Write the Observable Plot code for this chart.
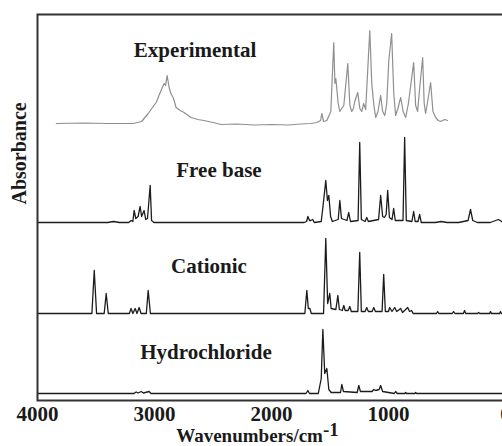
<!DOCTYPE html>
<html>
<head>
<meta charset="utf-8">
<script src="https://cdn.jsdelivr.net/npm/d3@7"></script>
<script src="https://cdn.jsdelivr.net/npm/@observablehq/plot@0.6"></script>
<style>
html, body { margin: 0; padding: 0; background: #fff; overflow: hidden; }
#chart { width: 502px; height: 446px; overflow: hidden; }
#chart svg { max-width: none !important; width: 520px; height: 446px; display: block; }
</style>
</head>
<body>
<div id="chart"></div>
<script>
// ---- data (wavenumber cm-1, absorbance relative to each trace's baseline) ----
const wavenumberTicks = [4000, 3000, 2000, 1000, 0];
const seriesNames = ["Experimental", "Free base", "Cationic", "Hydrochloride"];
const seriesOffsets = [2.77, 1.78, 0.87, 0.07];

const experimental = [[3839,0],[3600,0.005],[3400,0],[3182,0],[3110,0.02],[3054,0.10],[2986,0.21],[2944,0.33],[2918,0.40],[2905,0.38],[2892,0.48],[2875,0.36],[2860,0.30],[2841,0.26],[2830,0.22],[2816,0.16],[2780,0.13],[2747,0.11],[2688,0.06],[2630,0.04],[2577,0.03],[2500,0.01],[2432,-0.01],[2300,-0.005],[2150,-0.015],[2000,-0.01],[1850,-0.015],[1750,-0.005],[1664,0],[1613,0.01],[1580,0.03],[1570,0.10],[1555,0.02],[1527,0.03],[1493,0.12],[1468,0.81],[1458,0.40],[1450,0.45],[1430,0.20],[1416,0.12],[1400,0.15],[1382,0.18],[1348,0.60],[1330,0.18],[1314,0.12],[1300,0.15],[1288,0.22],[1263,0.31],[1245,0.15],[1229,0.12],[1212,0.20],[1195,0.14],[1160,0.93],[1143,0.40],[1125,0.18],[1109,0.06],[1090,0.12],[1067,0.28],[1050,0.12],[1032,0.08],[1015,0.20],[998,0.62],[973,0.90],[955,0.30],[939,0.08],[920,0.15],[896,0.26],[875,0.12],[853,0.06],[830,0.20],[785,0.61],[768,0.18],[751,0.12],[734,0.35],[708,0.66],[695,0.20],[683,0.10],[665,0.22],[640,0.41],[620,0.12],[597,0.06],[575,0.03],[555,0.02],[520,0.04],[495,0.03]];

const freeBase = [[4000,0],[3400,0],[3350,0.01],[3300,0],[3220,0],[3200,0.02],[3185,0.01],[3174,0.12],[3160,0.04],[3140,0.06],[3123,0.16],[3110,0.06],[3089,0.12],[3075,0.03],[3060,0.04],[3037,0.37],[3025,0.02],[3005,0],[1720,0],[1700,0.01],[1689,0.06],[1675,0.02],[1664,0.02],[1647,0.03],[1635,0],[1575,0.01],[1560,0.16],[1536,0.42],[1522,0.22],[1510,0.27],[1495,0.06],[1480,0.01],[1430,0.03],[1416,0.22],[1402,0.04],[1355,0.02],[1340,0.10],[1325,0.01],[1260,0.02],[1246,0.80],[1232,0.03],[1200,0.01],[1186,0.05],[1172,0.01],[1085,0.03],[1067,0.27],[1050,0.06],[1035,0.05],[1020,0.08],[1007,0.32],[992,0.05],[970,0.03],[956,0.14],[942,0.02],[876,0.02],[862,0.85],[848,0.02],[800,0.01],[785,0.11],[772,0.01],[748,0.01],[734,0.08],[720,0],[600,0],[550,0.01],[500,0],[400,0],[320,0.02],[299,0.13],[280,0.02],[240,0],[130,0],[60,0.03],[20,0]];

const cationic = [[4000,0],[3535,0],[3515,0.43],[3495,0],[3430,0],[3413,0.20],[3395,0],[3215,0],[3200,0.05],[3185,0],[3165,0.05],[3150,0],[3131,0.06],[3115,0],[3070,0],[3054,0.23],[3035,0],[1715,0],[1698,0.23],[1685,0.05],[1672,0.05],[1660,0],[1555,0],[1536,0.75],[1520,0.10],[1502,0.20],[1490,0.05],[1450,0.04],[1433,0.18],[1420,0.04],[1395,0.03],[1382,0.08],[1370,0.03],[1345,0.03],[1331,0.07],[1318,0.02],[1262,0.02],[1246,0.61],[1232,0.02],[1200,0.02],[1186,0.06],[1172,0.02],[1140,0.02],[1126,0.06],[1112,0.02],[1055,0.02],[1041,0.39],[1027,0.02],[1000,0.02],[990,0.06],[970,0.02],[947,0.06],[930,0.02],[896,0.05],[880,0.01],[836,0.06],[820,0.02],[802,0.03],[790,0],[590,0],[580,0.02],[570,0],[455,0],[444,0.02],[432,0],[360,0],[350,0.03],[340,0],[240,0],[230,0.01],[220,0],[135,0],[128,0.02],[120,0],[50,0],[43,0.02],[35,0]];

const hydrochloride = [[4000,0],[3175,0],[3157,0.015],[3140,0.005],[3114,0.02],[3095,0.005],[3046,0.02],[3030,0],[1705,0],[1689,0.03],[1675,0],[1600,0],[1575,0.15],[1561,0.64],[1545,0.20],[1527,0.25],[1510,0.04],[1490,0.01],[1410,0.01],[1399,0.09],[1385,0.02],[1268,0.01],[1254,0.08],[1240,0.02],[1140,0.02],[1126,0.04],[1110,0.03],[1080,0.04],[1067,0.08],[1050,0.02],[950,0],[939,0.02],[925,0],[860,0],[853,0.01],[845,0],[775,0],[768,0.01],[760,0],[0,0]];

const spectra = [experimental, freeBase, cationic, hydrochloride];

// label anchor positions (wavenumber, stacked absorbance)
const labelWavenumbers = [2653, 2449, 2534, 2560];
const labelLevels = [3.50, 2.30, 1.34, 0.48];

const traces = spectra.map((s, i) =>
  s.map(([w, a]) => ({series: seriesNames[i], w, a: a + seriesOffsets[i]})));

const serif = "'Liberation Serif', 'Times New Roman', serif";

const plot = Plot.plot({
  width: 520,
  height: 446,
  marginLeft: 37,
  marginRight: 15,
  marginTop: 14,
  marginBottom: 46,
  style: {fontFamily: serif, background: "#fff", overflow: "visible", maxWidth: "none"},
  x: {domain: [4000, 0], ticks: wavenumberTicks},
  y: {domain: [0, 3.86], axis: null},
  marks: [
    Plot.line(traces[0], {x: "w", y: "a", stroke: "#8f8f8f", strokeWidth: 1.2}),
    Plot.line(traces[1], {x: "w", y: "a", stroke: "#1c1c1c", strokeWidth: 1.3}),
    Plot.line(traces[2], {x: "w", y: "a", stroke: "#1c1c1c", strokeWidth: 1.3}),
    Plot.line(traces[3], {x: "w", y: "a", stroke: "#1c1c1c", strokeWidth: 1.3}),
    Plot.text(seriesNames, {
      x: (d, i) => labelWavenumbers[i], y: (d, i) => labelLevels[i], text: d => d,
      fontSize: 21, fontWeight: "bold", fill: "#1a1a1a", textAnchor: "middle", lineAnchor: "middle"
    }),
    Plot.axisX({ticks: wavenumberTicks, tickFormat: d => String(d), tickSize: 0, tickPadding: 6, fontSize: 21, fontWeight: "bold", fill: "#1a1a1a", label: null}),
    Plot.text(["Absorbance"], {frameAnchor: "left", rotate: -90, dx: -18, dy: -3, fontSize: 20, fontWeight: "bold", fill: "#1a1a1a"}),
    Plot.text(["Wavenumbers/cm-1"], {frameAnchor: "bottom", lineAnchor: "middle", dx: -14, dy: 35, fontSize: 19, fontWeight: "bold", fill: "#1a1a1a"}),
    Plot.frame({stroke: "#333", strokeWidth: 2})
  ]
});

document.getElementById("chart").appendChild(plot);

// superscript the "-1" in the x-axis title
d3.select(plot).selectAll("text").filter(function() { return this.textContent === "Wavenumbers/cm-1"; })
  .each(function() {
    const t = d3.select(this);
    t.text(null);
    t.append("tspan").text("Wavenumbers/cm");
    t.append("tspan").attr("dy", "-0.3em").text("-1");
  });
</script>
</body>
</html>
